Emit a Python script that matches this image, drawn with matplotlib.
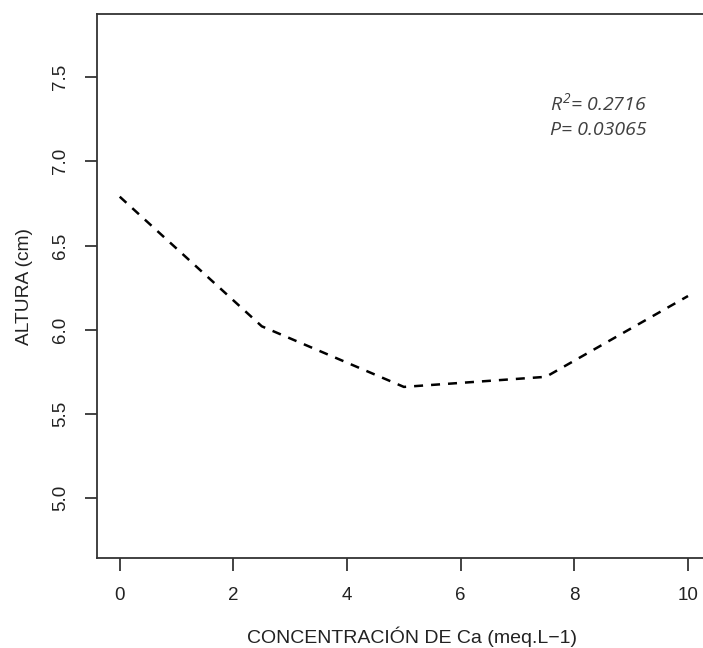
import matplotlib
matplotlib.use('Agg')
import matplotlib.pyplot as plt

# calcium concentration vs plant height (fitted trend)
concentracion = [0, 2.5, 5, 7.5, 10]
altura = [6.79, 6.02, 5.66, 5.72, 6.20]
r2_text = '$R^2$= 0.2716'
p_text = 'P= 0.03065'

plt.rcParams['font.family'] = ['Liberation Sans', 'DejaVu Sans']
plt.rcParams['mathtext.fontset'] = 'custom'
plt.rcParams['mathtext.rm'] = 'Open Sans:italic'
plt.rcParams['mathtext.it'] = 'Open Sans:italic'

fig = plt.figure(figsize=(7.03, 6.48), dpi=100)
ax = fig.add_axes([0.138, 0.139, 0.873, 0.839])

line, = ax.plot(concentracion, altura, color='black', lw=1.8, linestyle='--')
line.set_dashes((3.6, 3.2))

ax.set_xlim(-0.4, 10.4)
ax.set_ylim(4.644, 7.874)
ax.set_xticks([0, 2, 4, 6, 8, 10])
ax.set_yticks([5.0, 5.5, 6.0, 6.5, 7.0, 7.5])
ax.set_yticklabels(['5.0', '5.5', '6.0', '6.5', '7.0', '7.5'], rotation=90, va='center')

ax.tick_params(axis='both', direction='out', length=9, width=1.2, colors='#222222',
               labelsize=13.5, labelcolor='#222222')
ax.tick_params(axis='x', pad=12)
ax.tick_params(axis='y', pad=11)

for s in ax.spines.values():
    s.set_linewidth(1.3)
    s.set_color('#333333')

ax.set_xlabel('CONCENTRACIÓN DE Ca (meq.L\u22121)', fontsize=14, color='#222222')
ax.xaxis.set_label_coords(0.5125, -0.127)
ax.set_ylabel('ALTURA (cm)', fontsize=13.8, color='#222222', labelpad=14)

# fit statistics, placed in figure coordinates
fig.text(550 / 703, 1 - 103 / 648, r2_text, fontsize=14, style='italic',
         family='Open Sans', color='#404040', va='center', ha='left')
fig.text(550 / 703, 1 - 130 / 648, p_text, fontsize=14, style='italic',
         family='Open Sans', color='#404040', va='center', ha='left')

fig.savefig('out.png', dpi=100)
